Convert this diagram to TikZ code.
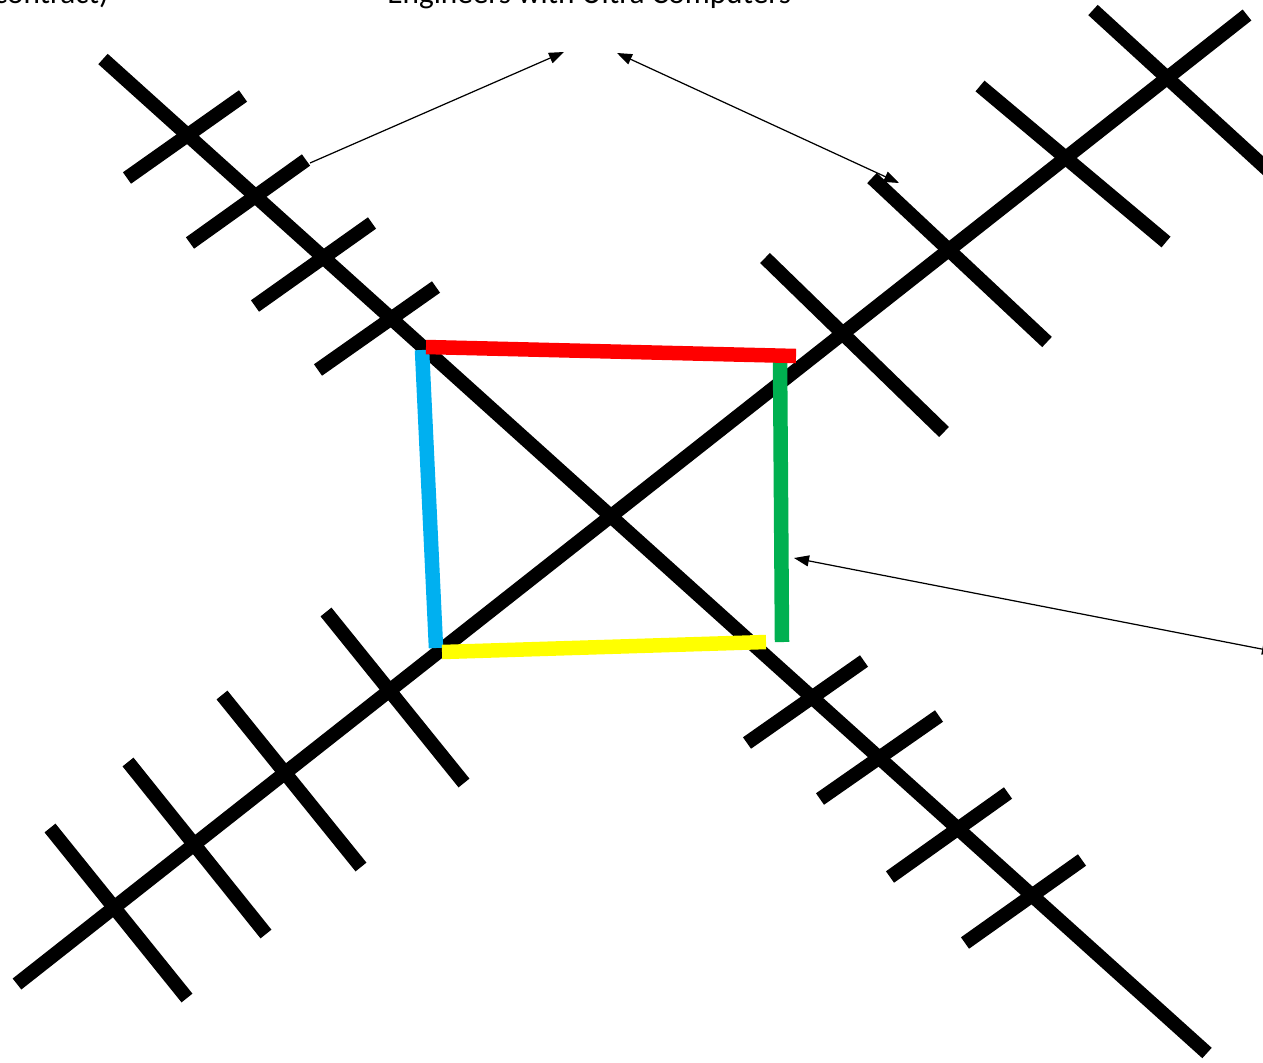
\documentclass[tikz,border=0pt]{standalone}
\usepackage{fontspec}
\setmainfont{Carlito}
\usetikzlibrary{arrows.meta}
\definecolor{sqred}{HTML}{FF0000}
\definecolor{sqblue}{HTML}{00B0F0}
\definecolor{sqgreen}{HTML}{00B050}
\definecolor{sqyellow}{HTML}{FFFF00}
\begin{document}
\begin{tikzpicture}[x=0.02cm,y=-0.02cm,
  bar/.style={line width=0.28cm},
  edge/.style={line width=0.29cm},
  tip/.style={Triangle[length=0.3cm,width=0.22cm]},
  pointer/.style={line width=0.7pt,-{Triangle[length=0.3cm,width=0.22cm]}},
  label/.style={font=\fontsize{17.8}{21}\selectfont,inner sep=0pt}]
\useasboundingbox (0,0) rectangle (1263,1062);
\clip (0,0) rectangle (1263,1062);
% labels at the top
\node[label,anchor=base east] (sub) at (109,3) {contract)};
\node[label,anchor=base west] (eng) at (387,3) {Engineers with Ultra Computers};
% main diagonals
\draw[bar] (103,59) -- (1207,1053);
\draw[bar] (17,984) -- (1247,15);
% ticks on the upper left arm
\draw[bar] (127,178) -- (243,96);
\draw[bar] (190,243) -- (306,160);
\draw[bar] (255,306) -- (372,223);
\draw[bar] (318,370) -- (436,287);
% ticks on the lower right arm
\draw[bar] (747,743) -- (864,661);
\draw[bar] (820,799) -- (939,716);
\draw[bar] (890,877) -- (1008,793);
\draw[bar] (965,943) -- (1082,860);
% ticks on the upper right arm
\draw[bar] (765,258) -- (944,432);
\draw[bar] (872,178) -- (1047,342);
\draw[bar] (980,86) -- (1166,242);
\draw[bar] (1093,10) -- (1270,172);
% ticks on the lower left arm
\draw[bar] (326,612) -- (464,783);
\draw[bar] (222,695) -- (361,867);
\draw[bar] (128,762) -- (266,934);
\draw[bar] (50,828) -- (187,998);
% the square
\draw[edge,sqblue] (422,350) -- (436,648);
\draw[edge,sqgreen] (780,357) -- (782,642);
\draw[edge,sqred] (426,347) -- (796,356);
\draw[edge,sqyellow] (442,652) -- (766,642);
% arrows
\coordinate (armL) at (310,163);
\coordinate (engL) at (564,52);
\coordinate (engR) at (617,53);
\coordinate (armR) at (899,183);
\coordinate (sideG) at (794,558);
\coordinate (offR) at (1277,652);
\draw[pointer] (armL) -- (engL);
\draw[pointer,{Triangle[length=0.3cm,width=0.22cm]}-{Triangle[length=0.3cm,width=0.22cm]}] (engR) -- (armR);
\draw[pointer,{Triangle[length=0.3cm,width=0.22cm]}-{Triangle[length=0.3cm,width=0.22cm]}] (sideG) -- (offR);
\end{tikzpicture}
\end{document}
